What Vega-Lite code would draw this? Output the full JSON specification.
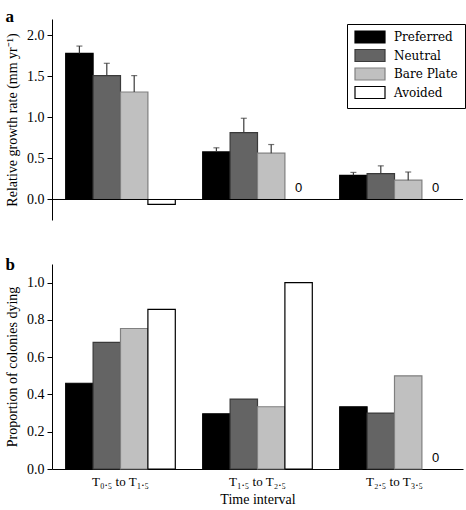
{
  "$schema": "https://vega.github.io/schema/vega-lite/v6.json",
  "padding": {"left": 5, "top": 8, "right": 1, "bottom": 0},
  "spacing": 36,
  "config": {
    "view": {"stroke": null},
    "font": "Liberation Serif",
    "axis": {"labelFont": "Liberation Serif", "titleFont": "Liberation Serif", "labelColor": "black", "titleColor": "black", "domainColor": "black", "tickColor": "black", "labelFontSize": 14, "titleFontSize": 14, "titleFontWeight": "normal", "grid": false},
    "legend": {"labelFont": "DejaVu Serif", "labelFontSize": 12, "labelColor": "black"},
    "title": {"font": "Liberation Serif", "fontSize": 17, "fontWeight": "bold", "anchor": "start", "frame": "bounds", "color": "black"}
  },
  "datasets": {
    "growth": [
      {"interval": "T₀.₅ to T₁.₅", "treatment": "Preferred", "value": 1.78, "upper": 1.87},
      {"interval": "T₀.₅ to T₁.₅", "treatment": "Neutral", "value": 1.51, "upper": 1.66},
      {"interval": "T₀.₅ to T₁.₅", "treatment": "Bare Plate", "value": 1.31, "upper": 1.51},
      {"interval": "T₀.₅ to T₁.₅", "treatment": "Avoided", "value": -0.06},
      {"interval": "T₁.₅ to T₂.₅", "treatment": "Preferred", "value": 0.58, "upper": 0.63},
      {"interval": "T₁.₅ to T₂.₅", "treatment": "Neutral", "value": 0.815, "upper": 0.99},
      {"interval": "T₁.₅ to T₂.₅", "treatment": "Bare Plate", "value": 0.565, "upper": 0.67},
      {"interval": "T₁.₅ to T₂.₅", "treatment": "Avoided", "label": "0"},
      {"interval": "T₂.₅ to T₃.₅", "treatment": "Preferred", "value": 0.295, "upper": 0.33},
      {"interval": "T₂.₅ to T₃.₅", "treatment": "Neutral", "value": 0.315, "upper": 0.41},
      {"interval": "T₂.₅ to T₃.₅", "treatment": "Bare Plate", "value": 0.235, "upper": 0.335},
      {"interval": "T₂.₅ to T₃.₅", "treatment": "Avoided", "label": "0"}
    ],
    "dying": [
      {"interval": "T₀.₅ to T₁.₅", "treatment": "Preferred", "value": 0.46},
      {"interval": "T₀.₅ to T₁.₅", "treatment": "Neutral", "value": 0.679},
      {"interval": "T₀.₅ to T₁.₅", "treatment": "Bare Plate", "value": 0.754},
      {"interval": "T₀.₅ to T₁.₅", "treatment": "Avoided", "value": 0.857},
      {"interval": "T₁.₅ to T₂.₅", "treatment": "Preferred", "value": 0.296},
      {"interval": "T₁.₅ to T₂.₅", "treatment": "Neutral", "value": 0.375},
      {"interval": "T₁.₅ to T₂.₅", "treatment": "Bare Plate", "value": 0.334},
      {"interval": "T₁.₅ to T₂.₅", "treatment": "Avoided", "value": 1.0},
      {"interval": "T₂.₅ to T₃.₅", "treatment": "Preferred", "value": 0.334},
      {"interval": "T₂.₅ to T₃.₅", "treatment": "Neutral", "value": 0.30},
      {"interval": "T₂.₅ to T₃.₅", "treatment": "Bare Plate", "value": 0.50},
      {"interval": "T₂.₅ to T₃.₅", "treatment": "Avoided", "label": "0"}
    ]
  },
  "resolve": {"scale": {"fill": "independent", "stroke": "independent"}},
  "vconcat": [
    {
      "title": {"text": "a", "dy": 11},
      "width": 411,
      "height": 201,
      "data": {"name": "growth"},
      "encoding": {
        "x": {"field": "interval", "type": "nominal", "sort": null, "axis": null, "scale": {"paddingInner": 0.2, "paddingOuter": 0.1}},
        "xOffset": {"field": "treatment", "type": "nominal", "sort": ["Preferred", "Neutral", "Bare Plate", "Avoided"], "scale": {"paddingInner": 0, "paddingOuter": 0}}
      },
      "layer": [
        {
          "mark": {"type": "bar", "strokeWidth": 1.2},
          "encoding": {
            "y": {"field": "value", "type": "quantitative", "scale": {"domain": [-0.25, 2.2], "nice": false, "zero": false}, "axis": {"values": [0, 0.5, 1, 1.5, 2], "format": ".1f", "title": "Relative growth rate (mm yr⁻¹)", "tickSize": 5, "labelPadding": 3, "titlePadding": 7}},
            "fill": {"field": "treatment", "type": "nominal", "sort": ["Preferred", "Neutral", "Bare Plate", "Avoided"], "scale": {"domain": ["Preferred", "Neutral", "Bare Plate", "Avoided"], "range": ["#000000", "#646464", "#c0c0c0", "#ffffff"]}, "legend": {"title": null, "orient": "none", "legendX": 295, "legendY": 5, "strokeColor": "black", "fillColor": "white", "padding": 7, "labelFont": "DejaVu Serif", "labelFontSize": 12, "labelColor": "black", "symbolType": "M-1,-1.2H5V1.2H-1Z", "symbolSize": 100, "symbolStrokeWidth": 1.2, "symbolOpacity": 1, "labelOffset": 28, "rowPadding": 0.5, "encode": {"symbols": {"update": {"stroke": {"signal": "datum.value === 'Bare Plate' ? '#808080' : datum.value === 'Neutral' ? '#3a3a3a' : '#000000'"}, "strokeWidth": {"value": 1.2}}}}}},
            "stroke": {"field": "treatment", "type": "nominal", "sort": ["Preferred", "Neutral", "Bare Plate", "Avoided"], "scale": {"domain": ["Preferred", "Neutral", "Bare Plate", "Avoided"], "range": ["#000000", "#3a3a3a", "#808080", "#000000"]}, "legend": null}
          }
        },
        {
          "mark": {"type": "rule", "color": "#3a3a3a", "strokeWidth": 1.2},
          "encoding": {"y": {"field": "value", "type": "quantitative"}, "y2": {"field": "upper"}}
        },
        {
          "mark": {"type": "tick", "color": "#3a3a3a", "size": 6, "thickness": 1.2},
          "encoding": {"y": {"field": "upper", "type": "quantitative"}}
        },
        {
          "transform": [{"filter": "datum.label != null"}],
          "mark": {"type": "text", "font": "Liberation Sans", "fontSize": 13, "baseline": "bottom", "dy": -4, "color": "black"},
          "encoding": {"y": {"datum": 0}, "text": {"field": "label"}}
        },
        {
          "data": {"values": [{"z": 0}]},
          "mark": {"type": "rule", "color": "black", "strokeWidth": 1},
          "encoding": {"y": {"field": "z", "type": "quantitative"}, "x": null, "xOffset": null}
        }
      ]
    },
    {
      "title": {"text": "b", "dy": 14},
      "width": 411,
      "height": 205,
      "data": {"name": "dying"},
      "encoding": {
        "x": {"field": "interval", "type": "nominal", "sort": null, "scale": {"paddingInner": 0.2, "paddingOuter": 0.1}, "axis": {"title": "Time interval", "labelAngle": 0, "ticks": false, "labelPadding": 6, "titlePadding": 4, "labelFontSize": 13}},
        "xOffset": {"field": "treatment", "type": "nominal", "sort": ["Preferred", "Neutral", "Bare Plate", "Avoided"], "scale": {"paddingInner": 0, "paddingOuter": 0}}
      },
      "layer": [
        {
          "mark": {"type": "bar", "strokeWidth": 1.2},
          "encoding": {
            "y": {"field": "value", "type": "quantitative", "scale": {"domain": [0, 1.1], "nice": false}, "axis": {"values": [0, 0.2, 0.4, 0.6, 0.8, 1.0], "format": ".1f", "title": "Proportion of colonies dying", "tickSize": 5, "labelPadding": 3, "titlePadding": 7}},
            "fill": {"field": "treatment", "type": "nominal", "scale": {"domain": ["Preferred", "Neutral", "Bare Plate", "Avoided"], "range": ["#000000", "#646464", "#c0c0c0", "#ffffff"]}, "legend": null},
            "stroke": {"field": "treatment", "type": "nominal", "scale": {"domain": ["Preferred", "Neutral", "Bare Plate", "Avoided"], "range": ["#000000", "#3a3a3a", "#808080", "#000000"]}, "legend": null}
          }
        },
        {
          "transform": [{"filter": "datum.label != null"}],
          "mark": {"type": "text", "font": "Liberation Sans", "fontSize": 13, "baseline": "bottom", "dy": -4, "color": "black"},
          "encoding": {"y": {"datum": 0}, "text": {"field": "label"}}
        }
      ]
    }
  ]
}
